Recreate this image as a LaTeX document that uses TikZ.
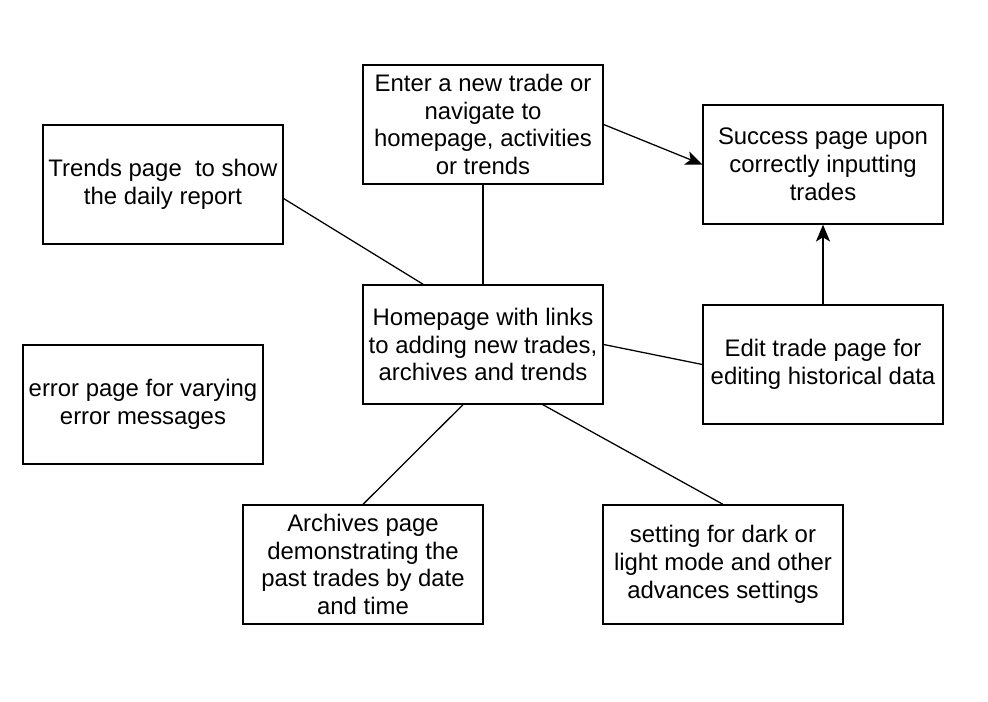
\documentclass[tikz,border=0pt]{standalone}
\usepackage{fontspec}
\setmainfont{Liberation Sans}
\usetikzlibrary{arrows.meta}
\begin{document}
\begin{tikzpicture}[x=0.025cm,y=-0.025cm,
		page/.style={draw,line width=.9pt,minimum width=6cm,minimum height=2.975cm,align=center,inner sep=0pt,font=\fontsize{17pt}{19.8pt}\selectfont},
		link/.style={line width=.9pt},
		goto/.style={line width=.9pt,-{Stealth[length=12pt,width=10pt,inset=3pt]}}]
		\useasboundingbox (0,0) rectangle (988,702);

		\node[page] (trends) at (163,184.5){Trends page\ \ to show\\the daily report};
		\node[page] (enter) at (483,124.5){Enter a new trade or\\navigate to\\homepage, activities\\or trends};
		\node[page] (success) at (823,164.5){Success page upon\\correctly inputting\\trades};
		\node[page] (home) at (483,344.5){Homepage with links\\to adding new trades,\\archives and trends};
		\node[page] (edit) at (823,364.5){Edit trade page for\\editing historical data};
		\node[page] (error) at (143,404.5){error page for varying\\error messages};
		\node[page] (archives) at (363,564.5){Archives page\\demonstrating the\\past trades by date\\and time};
		\node[page] (setting) at (723,564.5){setting for dark or\\light mode and other\\advances settings};

		\draw[link] ([yshift=-10pt]trends.east)--([xshift=-42.5pt]home.north);
		\draw[link] (enter.south)--(home.north);
		\draw[goto] (enter.east)--(success.west);
		\draw[goto] (edit.north)--(success.south);
		\draw[link] (home.east)--(edit.west);
		\draw[link] ([xshift=-14.2pt]home.south)--(archives.north);
		\draw[link] ([xshift=42.5pt]home.south)--(setting.north);
	\end{tikzpicture}
\end{document}
